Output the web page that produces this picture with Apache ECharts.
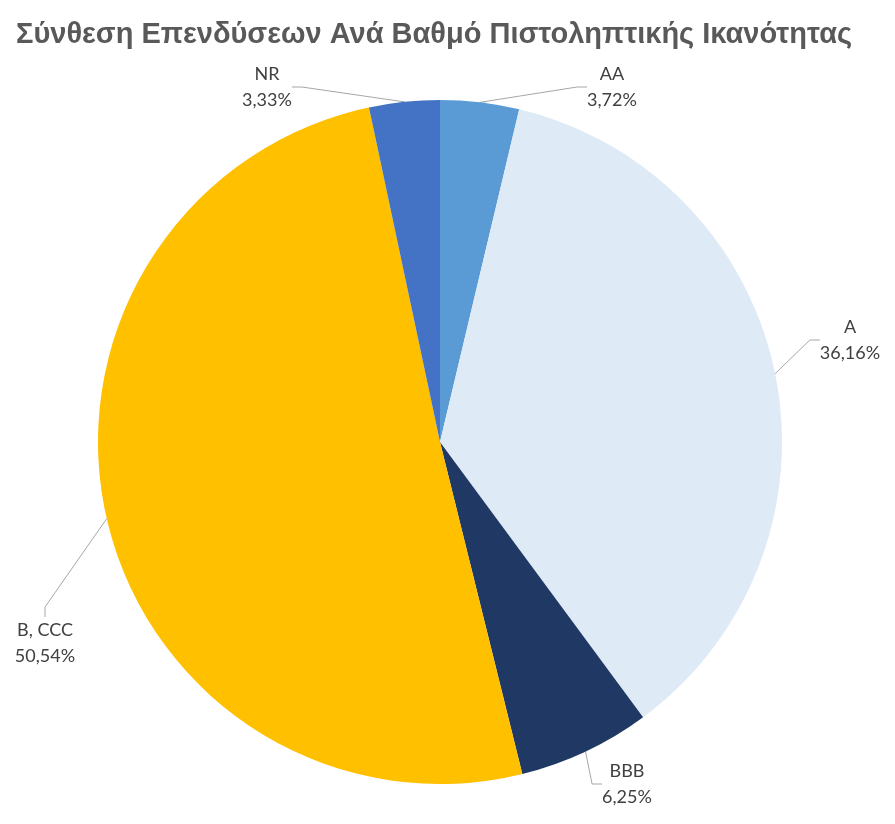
<!DOCTYPE html>
<html>
<head>
<meta charset="utf-8">
<script src="https://cdn.jsdelivr.net/npm/echarts@6/dist/echarts.min.js"></script>
<style>html,body{margin:0;padding:0;background:#fff}#c{width:895px;height:824px}</style>
</head>
<body>
<div id="c"></div>
<script>
const titleText = 'Σύνθεση Επενδύσεων Ανά Βαθμό Πιστοληπτικής Ικανότητας';
const categories = ['AA', 'A', 'BBB', 'B, CCC', 'NR'];
const values = [3.72, 36.16, 6.25, 50.54, 3.33];
const colors = ['#5B9BD5', '#DEEAF6', '#1F3864', '#FFC000', '#4472C4'];
const labelPositions = [[612, 87], [850, 340], [627, 784], [45, 643], [267, 87]];

const chart = echarts.init(document.getElementById('c'));
chart.setOption({
  animation: false,
  title: {
    text: titleText,
    left: 11, top: 15,
    textStyle: { fontFamily: 'Liberation Sans', fontWeight: 'bold', fontSize: 29, color: '#595959' }
  },
  series: [{
    type: 'pie',
    center: [440, 442],
    radius: 342,
    startAngle: 90,
    clockwise: true,
    data: categories.map((c, i) => ({ name: c, value: values[i], itemStyle: { color: colors[i] } })),
    itemStyle: { borderWidth: 0 },
    label: {
      show: true,
      position: 'outside',
      fontFamily: 'Lato',
      fontSize: 18,
      lineHeight: 26,
      color: '#404040',
      align: 'center',
      formatter: p => p.name + '\n' + p.value.toFixed(2).replace('.', ',') + '%'
    },
    labelLine: { show: true, lineStyle: { color: '#A6A6A6', width: 1 }, length: 10, length2: 10 },
    labelLayout: p => ({
      x: labelPositions[p.dataIndex][0],
      y: labelPositions[p.dataIndex][1],
      align: 'center',
      verticalAlign: 'middle'
    })
  }]
});
</script>
</body>
</html>
